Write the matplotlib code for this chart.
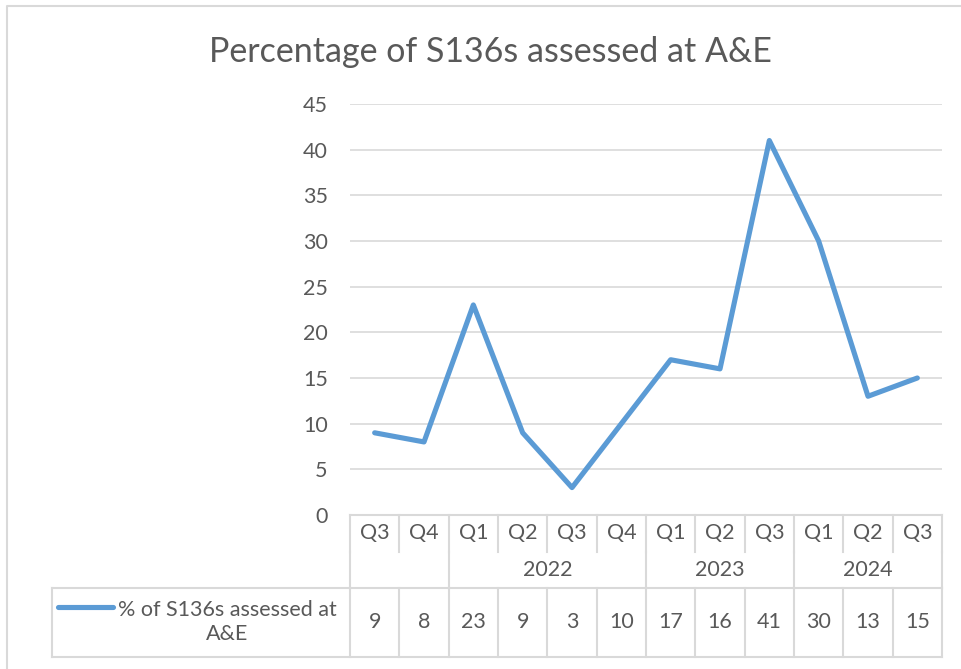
import numpy as np
import matplotlib
matplotlib.use('Agg')
import matplotlib.pyplot as plt
from matplotlib import transforms
from matplotlib.lines import Line2D

plt.rcParams['font.family'] = ['Lato', 'DejaVu Sans']

# データ
quarters = ['Q3', 'Q4', 'Q1', 'Q2', 'Q3', 'Q4', 'Q1', 'Q2', 'Q3', 'Q1', 'Q2', 'Q3']
years = ['', '2022', '2023', '2024']
year_sizes = [2, 4, 3, 3]
values = [9, 8, 23, 9, 3, 10, 17, 16, 41, 30, 13, 15]
series_name = '% of S136s assessed at\nA&E'
title = 'Percentage of S136s assessed at A&E'

W, H = 962, 669
txt = '#595959'
grid = '#D9D9D9'
blue = '#5B9BD5'
fs = 15.5


def fx(px):
    return px / W


def fy(py):
    return 1 - py / H


fig = plt.figure(figsize=(W / 100, H / 100), dpi=100)
ax = fig.add_axes([fx(350), fy(515), fx(942) - fx(350), fy(104) - fy(515)])

x = np.arange(len(values))
ax.plot(x, values, color=blue, lw=3.7, solid_capstyle='round', solid_joinstyle='round', zorder=3)

ax.set_xlim(-0.5, len(values) - 0.5)
ax.set_ylim(0, 45)
ax.set_yticks(np.arange(0, 46, 5))
ax.set_xticks([])
ax.tick_params(axis='y', length=0, pad=16, labelsize=fs, labelcolor=txt)
ax.grid(axis='y', color=grid, lw=1.2)
ax.set_axisbelow(True)
for s in ax.spines.values():
    s.set_visible(False)

fig.text(fx(490), fy(62), title, ha='center', va='baseline', fontsize=24.5, color=txt)

# テーブル部分
tr = transforms.blended_transform_factory(ax.transData, fig.transFigure)
r0, r1, r2, r3 = fy(515), fy(552), fy(588), fy(657)
lo, hi = -0.5, len(values) - 0.5


def hline(y, x0, x1, trans=tr):
    fig.add_artist(Line2D([x0, x1], [y, y], transform=trans, color=grid, lw=1.5))


def vline(xv, y0, y1, trans=tr):
    fig.add_artist(Line2D([xv, xv], [y0, y1], transform=trans, color=grid, lw=1.5))


hline(r0, lo, hi)
left_data = ax.transData.inverted().transform((52, 0))[0]
hline(r2, left_data, hi)
hline(r3, left_data, hi)
vline(fx(52), r2, r3, trans=fig.transFigure)

for i in range(len(values) + 1):
    b = i - 0.5
    vline(b, r0, r1)
    vline(b, r2, r3)

pos = 0
bounds = [lo]
for n in year_sizes:
    pos += n
    bounds.append(pos - 0.5)
for b in bounds:
    vline(b, r1, r2)

for i, q in enumerate(quarters):
    fig.text(i, (r0 + r1) / 2, q, transform=tr, ha='center', va='center', fontsize=fs, color=txt)
    fig.text(i, (r2 + r3) / 2, str(values[i]), transform=tr, ha='center', va='center', fontsize=fs, color=txt)

for k, yr in enumerate(years):
    c = (bounds[k] + bounds[k + 1]) / 2
    fig.text(c, (r1 + r2) / 2, yr, transform=tr, ha='center', va='center', fontsize=fs, color=txt)

# 凡例
fig.add_artist(Line2D([fx(58), fx(113)], [fy(607), fy(607)], transform=fig.transFigure,
                      color=blue, lw=3.7, solid_capstyle='round'))
fig.text(fx(227), fy(622), series_name, ha='center', va='center', fontsize=fs, color=txt,
         linespacing=1.2)

# 外枠
fig.add_artist(Line2D([fx(7), fx(7), fx(980)], [fy(680), fy(6), fy(6)], transform=fig.transFigure,
                      color=grid, lw=1.5))

plt.savefig('out.png', dpi=100)
